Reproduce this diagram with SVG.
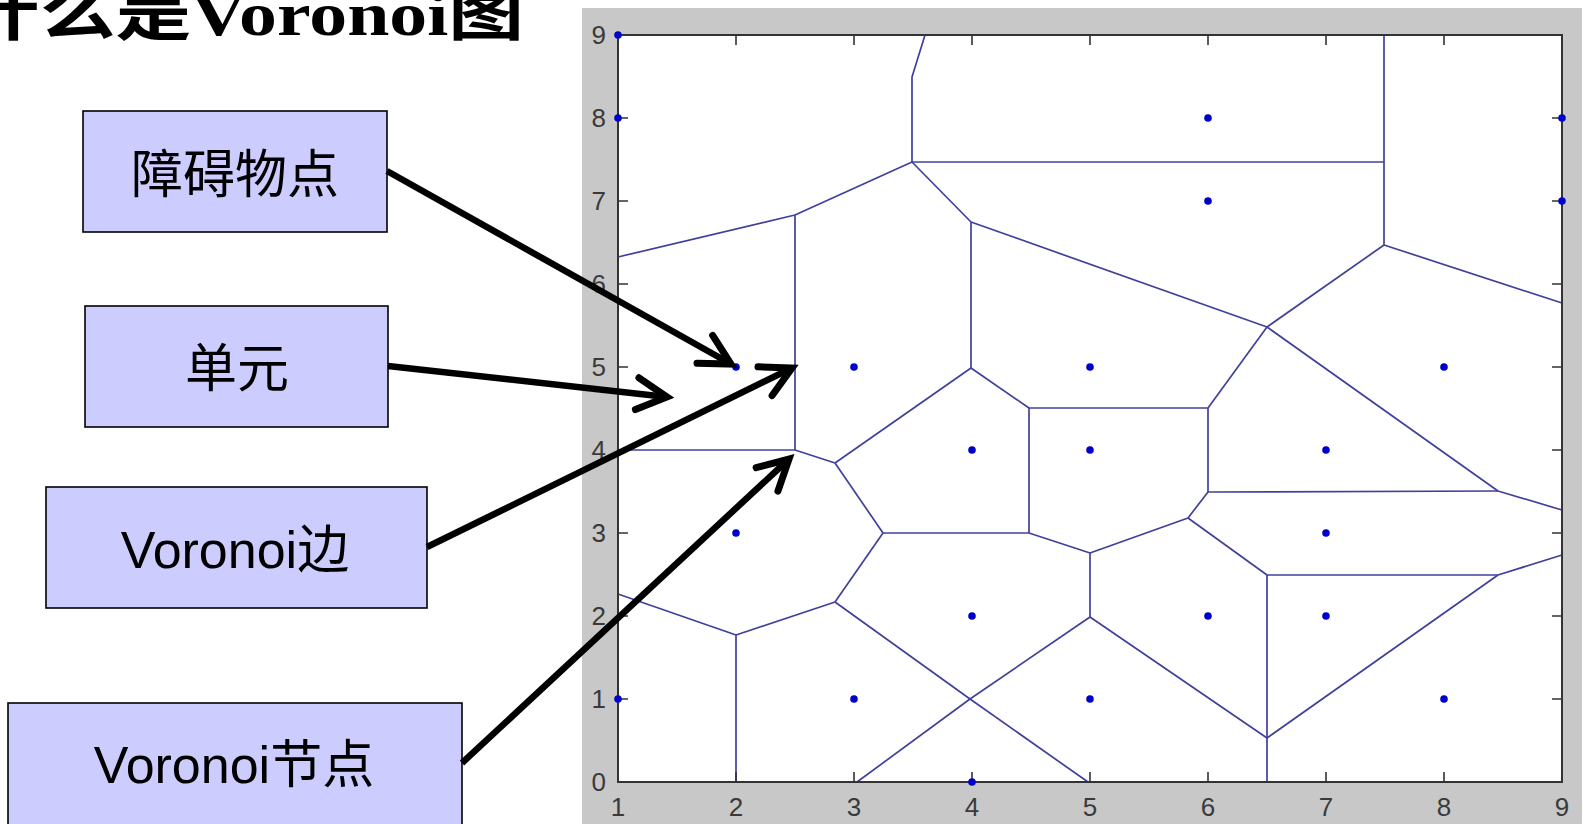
<svg xmlns="http://www.w3.org/2000/svg" width="1587" height="824" viewBox="0 0 1587 824">
  <style>
    .cell { fill: none; stroke: #40409c; stroke-width: 1.7; stroke-linejoin: round; }
    .site { fill: #0000cc; }
    .axis { fill: none; stroke: #333333; stroke-width: 2; }
    .tick { stroke: #333333; stroke-width: 1.6; }
    .tl { font-family: "Liberation Sans", Arial, sans-serif; font-size: 26px; fill: #3a3a3a; }
    .box { fill: #ccccff; stroke: #000000; stroke-width: 1.6; }
    .cjk { font-family: "Liberation Serif", "Noto Sans CJK SC", serif; font-size: 52px; fill: #000000; text-anchor: middle; }
    .lat { font-family: "Liberation Sans", "Noto Sans CJK SC", sans-serif; font-size: 52px; fill: #000000; text-anchor: middle; }
    .arrow { fill: none; stroke: #000000; stroke-width: 6.5; marker-end: url(#openArrow); }
  </style>
  <defs>
    <marker id="openArrow" markerUnits="userSpaceOnUse" markerWidth="80" markerHeight="80" viewBox="-45 -40 60 80" refX="0" refY="0" orient="auto" overflow="visible">
      <path d="M-30,-16 L0,0 L-30,16" fill="none" stroke="#000000" stroke-width="7" stroke-linecap="round" stroke-linejoin="miter"/>
    </marker>
  </defs>

  <rect x="0" y="0" width="1587" height="824" fill="#ffffff"/>

  <!-- title, clipped at the left page edge -->
  <text x="-36" y="35" font-family="'Liberation Serif', 'Noto Sans CJK SC', serif" font-size="62" font-weight="bold" textLength="560" lengthAdjust="spacingAndGlyphs">什么是Voronoi图</text>

  <!-- plot figure -->
  <g id="plot">
    <rect x="582" y="8" width="1000" height="820" fill="#c8c8c8"/>
    <rect x="618" y="35" width="944" height="747" fill="#ffffff"/>

    <!-- Voronoi edges -->
    <g id="voronoi-edges" class="cell">
      <polyline points="925,35 912,77 912,162"/>
      <line x1="912" y1="162" x2="1384" y2="162"/>
      <line x1="1384" y1="35" x2="1384" y2="245"/>
      <line x1="912" y1="162" x2="795" y2="215"/>
      <line x1="795" y1="215" x2="618" y2="257"/>
      <line x1="795" y1="215" x2="795" y2="450"/>
      <line x1="912" y1="162" x2="971" y2="222"/>
      <line x1="971" y1="222" x2="971" y2="368"/>
      <line x1="971" y1="222" x2="1267" y2="327"/>
      <line x1="1384" y1="245" x2="1267" y2="327"/>
      <line x1="1384" y1="245" x2="1562" y2="303"/>
      <line x1="1267" y1="327" x2="1498" y2="491"/>
      <line x1="1498" y1="491" x2="1562" y2="510"/>
      <line x1="1267" y1="327" x2="1208" y2="408"/>
      <line x1="1208" y1="408" x2="1029" y2="408"/>
      <line x1="971" y1="368" x2="1029" y2="408"/>
      <line x1="971" y1="368" x2="835" y2="463"/>
      <line x1="795" y1="450" x2="835" y2="463"/>
      <line x1="795" y1="450" x2="618" y2="450"/>
      <line x1="1029" y1="408" x2="1029" y2="533"/>
      <line x1="835" y1="463" x2="883" y2="533"/>
      <line x1="883" y1="533" x2="1029" y2="533"/>
      <line x1="883" y1="533" x2="835" y2="602"/>
      <line x1="835" y1="602" x2="736" y2="635"/>
      <line x1="736" y1="635" x2="618" y2="594"/>
      <line x1="736" y1="635" x2="736" y2="782"/>
      <line x1="835" y1="602" x2="970" y2="699"/>
      <line x1="970" y1="699" x2="1088" y2="782"/>
      <line x1="970" y1="699" x2="857" y2="782"/>
      <line x1="1029" y1="533" x2="1090" y2="553"/>
      <line x1="1090" y1="553" x2="1090" y2="617"/>
      <line x1="970" y1="699" x2="1090" y2="617"/>
      <line x1="1090" y1="553" x2="1188" y2="518"/>
      <line x1="1188" y1="518" x2="1208" y2="492"/>
      <line x1="1208" y1="492" x2="1208" y2="408"/>
      <line x1="1208" y1="492" x2="1498" y2="491"/>
      <line x1="1188" y1="518" x2="1267" y2="575"/>
      <line x1="1267" y1="575" x2="1498" y2="575"/>
      <line x1="1498" y1="575" x2="1562" y2="555"/>
      <line x1="1267" y1="575" x2="1267" y2="782"/>
      <line x1="1090" y1="617" x2="1267" y2="738"/>
      <line x1="1267" y1="738" x2="1498" y2="575"/>
    </g>

    <!-- axes box and ticks -->
    <rect class="axis" x="618" y="35" width="944" height="747"/>
    <g id="ticks" class="tick">
      <path d="M736,782v-10M854,782v-10M972,782v-10M1090,782v-10M1208,782v-10M1326,782v-10M1444,782v-10"/>
      <path d="M736,35v10M854,35v10M972,35v10M1090,35v10M1208,35v10M1326,35v10M1444,35v10"/>
      <path d="M618,699h10M618,616h10M618,533h10M618,450h10M618,367h10M618,284h10M618,201h10M618,118h10"/>
      <path d="M1562,699h-10M1562,616h-10M1562,533h-10M1562,450h-10M1562,367h-10M1562,284h-10M1562,201h-10M1562,118h-10"/>
    </g>

    <!-- tick labels -->
    <g id="y-labels" class="tl" text-anchor="end">
      <text x="606" y="791">0</text>
      <text x="606" y="708">1</text>
      <text x="606" y="625">2</text>
      <text x="606" y="542">3</text>
      <text x="606" y="459">4</text>
      <text x="606" y="376">5</text>
      <text x="606" y="293">6</text>
      <text x="606" y="210">7</text>
      <text x="606" y="127">8</text>
      <text x="606" y="44">9</text>
    </g>
    <g id="x-labels" class="tl" text-anchor="middle">
      <text x="618" y="816">1</text>
      <text x="736" y="816">2</text>
      <text x="854" y="816">3</text>
      <text x="972" y="816">4</text>
      <text x="1090" y="816">5</text>
      <text x="1208" y="816">6</text>
      <text x="1326" y="816">7</text>
      <text x="1444" y="816">8</text>
      <text x="1562" y="816">9</text>
    </g>

    <!-- obstacle sites -->
    <g id="sites" class="site">
      <circle cx="618" cy="35" r="3.8"/>
      <circle cx="618" cy="118" r="3.8"/>
      <circle cx="1208" cy="118" r="3.8"/>
      <circle cx="1562" cy="118" r="3.8"/>
      <circle cx="1208" cy="201" r="3.8"/>
      <circle cx="1562" cy="201" r="3.8"/>
      <circle cx="736" cy="367" r="3.8"/>
      <circle cx="854" cy="367" r="3.8"/>
      <circle cx="1090" cy="367" r="3.8"/>
      <circle cx="1444" cy="367" r="3.8"/>
      <circle cx="972" cy="450" r="3.8"/>
      <circle cx="1090" cy="450" r="3.8"/>
      <circle cx="1326" cy="450" r="3.8"/>
      <circle cx="736" cy="533" r="3.8"/>
      <circle cx="1326" cy="533" r="3.8"/>
      <circle cx="972" cy="616" r="3.8"/>
      <circle cx="1208" cy="616" r="3.8"/>
      <circle cx="1326" cy="616" r="3.8"/>
      <circle cx="618" cy="699" r="3.8"/>
      <circle cx="854" cy="699" r="3.8"/>
      <circle cx="1090" cy="699" r="3.8"/>
      <circle cx="1444" cy="699" r="3.8"/>
      <circle cx="972" cy="782" r="3.8"/>
    </g>
  </g>

  <!-- label boxes -->
  <g id="node-obstacle">
    <rect class="box" x="83" y="111" width="304" height="121"/>
    <text class="cjk" x="235" y="193">障碍物点</text>
  </g>
  <g id="node-cell">
    <rect class="box" x="85" y="306" width="303" height="121"/>
    <text class="cjk" x="237" y="387">单元</text>
  </g>
  <g id="node-edge">
    <rect class="box" x="46" y="487" width="381" height="121"/>
    <text class="lat" x="235" y="568">Voronoi边</text>
  </g>
  <g id="node-vertex">
    <rect class="box" x="8" y="703" width="454" height="124"/>
    <text class="lat" x="234" y="783">Voronoi节点</text>
  </g>

  <!-- pointers -->
  <g id="connectors">
    <line class="arrow" x1="387" y1="171" x2="731" y2="364"/>
    <line class="arrow" x1="388" y1="366" x2="667" y2="397"/>
    <line class="arrow" x1="427" y1="547" x2="792" y2="368"/>
    <line class="arrow" x1="462" y1="763" x2="789" y2="459"/>
  </g>
</svg>
